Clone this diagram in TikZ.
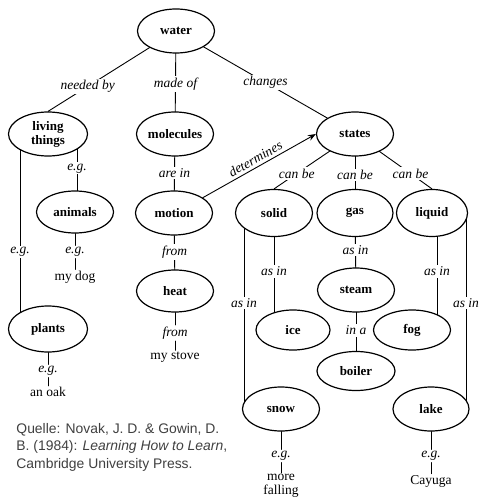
\documentclass[tikz,border=0pt]{standalone}
\usepackage{fontspec}
\setmainfont{Liberation Serif}
\setsansfont{Liberation Sans}
\usetikzlibrary{shapes.geometric,arrows.meta,backgrounds}
\begin{document}
\begin{tikzpicture}[x=1pt,y=-1pt,line join=round,line cap=round,>={Stealth[length=8pt,width=6pt]},line width=0.9pt]
	\tikzset{concept/.style={ellipse,draw,fill=white,line width=1.2pt,minimum width=77pt,minimum height=44pt,inner sep=0pt,align=center,font=\fontsize{13}{14}\selectfont\bfseries},
		link/.style={fill=white,inner sep=1.5pt,font=\fontsize{13.5}{14}\selectfont\itshape},
		leaf/.style={fill=white,inner sep=1pt,align=center,font=\fontsize{13.5}{14}\selectfont}}
	\useasboundingbox (0,0) rectangle (480,502);
	% concepts
	\node[concept] (water) at (176,31) {water};
	\node[concept,minimum width=79pt] (living) at (48,134) {living\\things};
	\node[concept] (molecules) at (175,134) {molecules};
	\node[concept] (states) at (355,134) {states};
	\node[concept,minimum height=42pt] (animals) at (75,212) {animals};
	\node[concept] (motion) at (174,213) {motion};
	\node[concept,minimum height=42pt] (heat) at (175,291) {heat};
	\node[concept,minimum width=79pt,minimum height=46pt] (plants) at (48,329) {plants};
	\node[concept,minimum height=47pt] (solid) at (274,213) {solid};
	\node[concept,minimum width=76pt,minimum height=47pt] (gas) at (355,213) {gas};
	\node[concept,minimum width=71pt,minimum height=47pt] (liquid) at (432,213) {liquid};
	\node[concept] (steam) at (356,290) {steam};
	\node[concept,minimum width=74pt,minimum height=40pt] (ice) at (293,330) {ice};
	\node[concept,minimum height=40pt] (fog) at (412,330) {fog};
	\node[concept,minimum width=78pt,minimum height=39pt] (boiler) at (356,371) {boiler};
	\node[concept] (snow) at (281,409) {snow};
	\node[concept,minimum width=76pt] (lake) at (431,409) {lake};
	% links
	\begin{scope}[on background layer]
	\begin{scope}[line width=0.9pt]
		\draw (water.center) -- (living.north) node[link,pos=0.69] {needed by};
		\draw (water.center) -- (molecules.center) node[link,pos=0.515] {made of};
		\draw (water.center) -- (states.center) node[link,pos=0.5] {changes};
		\draw ([xshift=29pt]living.center) -- ([xshift=29pt]living.center |- animals.center) node[link,pos=0.44] {e.g.};
		\draw ([xshift=-28pt]living.center) -- ([xshift=-28pt]living.center |- plants.center) node[link,pos=0.605] {e.g.};
		\draw (molecules.center) -- (motion.center) node[link,pos=0.49] {are in};
		\draw (motion.center) -- (heat.center) node[link,pos=0.5] {from};
		\draw (states.center) -- (solid.north) node[link,pos=0.72] {can be};
		\draw (states.center) -- (gas.center) node[link,pos=0.52] {can be};
		\draw (states.center) -- (liquid.north) node[link,pos=0.72] {can be};
		\draw (gas.center) -- (steam.center) node[link,pos=0.48] {as in};
		\draw (solid.center) -- (solid.center |- ice.center) node[link,pos=0.5] {as in};
		\draw ([xshift=-30pt]solid.center) -- ([xshift=-30pt]solid.center |- snow.center) node[link,pos=0.46] {as in};
		\draw ([xshift=5pt]liquid.center) -- ([xshift=5pt]liquid.center |- fog.center) node[link,pos=0.5] {as in};
		\draw ([xshift=34pt]liquid.center) -- ([xshift=34pt]liquid.center |- lake.center) node[link,pos=0.46] {as in};
		\draw (steam.center) -- (boiler.center) node[link,pos=0.5] {in a};
	\end{scope}
	\end{scope}
	\draw[->] (motion.28) -- (states.west) node[midway,above,sloped,inner sep=3pt,font=\fontsize{13.5}{14}\selectfont\itshape] {determines};
	% examples
	\foreach \p/\rel/\ey/\ly/\txt in {animals/e.g./252/277/my dog,heat/from/333/357/my stove,plants/e.g./371/392/an oak,snow/e.g./456/486/{more\\falling},lake/e.g./456/481/Cayuga}{
		\node[link] (\p-rel) at (\p.center |- 0,\ey) {\rel};
		\node[leaf] (\p-leaf) at (\p.center |- 0,\ly) {\txt};
		\draw (\p) -- (\p-rel) -- (\p-leaf);
	}
	% source
	\node[anchor=base west,align=left,inner sep=0pt,text=black!75,font=\sffamily\fontsize{13.9}{17.3}\selectfont] (source) at (16,468) {Quelle: Novak, J. D. \& Gowin, D.\\B. (1984): \textit{Learning How to Learn},\\Cambridge University Press.};
\end{tikzpicture}
\end{document}
